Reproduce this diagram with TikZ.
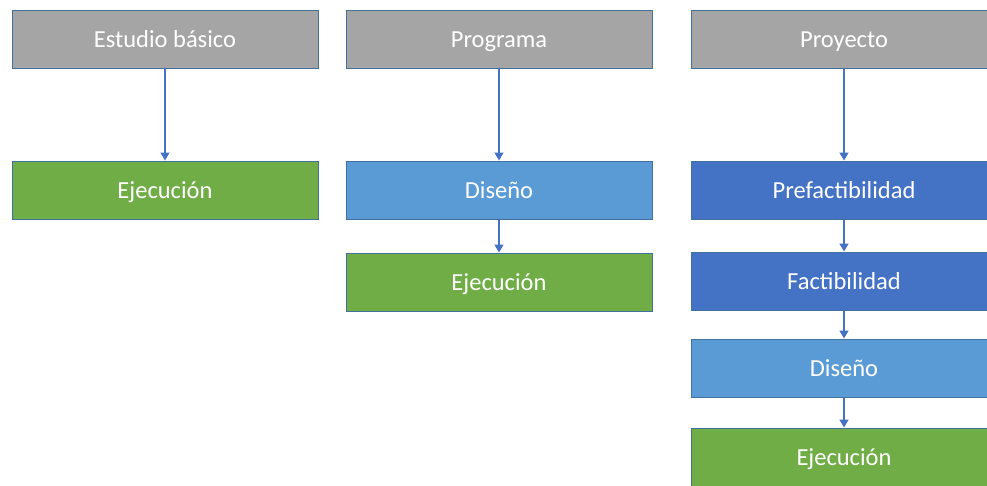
\documentclass[tikz,border=0pt]{standalone}
\usepackage{fontspec}
\setmainfont{Carlito}
\usetikzlibrary{arrows.meta, positioning}
\tikzset{>={Triangle[width=9pt,length=8pt]}}
\definecolor{gris}{HTML}{A5A5A5}
\definecolor{verde}{HTML}{70AD47}
\definecolor{celeste}{HTML}{5B9BD5}
\definecolor{azul}{HTML}{4472C4}
\definecolor{borde}{HTML}{41719C}
\tikzset{
  fase/.style = {draw=borde, line width=1pt, minimum width=306pt, minimum height=58pt,
                 inner sep=0pt, text height=17pt, text depth=0pt, text=white,
                 font=\fontsize{24.5}{28}\selectfont},
  flecha/.style = {->, color=azul, line width=1.5pt}
}

\begin{document}
\begin{tikzpicture}[x=1pt, y=1pt, on grid]
		\useasboundingbox (0,0) rectangle (987,-485);
		\clip (0,0) rectangle (987,-485);
		% estudio basico
		\node (estudio) [fase, fill=gris] at (165,-39) {Estudio básico};
		\node (ejec1) [fase, fill=verde, below = 151pt of estudio] {Ejecución};
		% programa
		\node (programa) [fase, fill=gris, right = 334pt of estudio] {Programa};
		\node (diseno2) [fase, fill=celeste, below = 151pt of programa] {Diseño};
		\node (ejec2) [fase, fill=verde, below = 92pt of diseno2] {Ejecución};
		% proyecto
		\node (proyecto) [fase, fill=gris, right = 345pt of programa] {Proyecto};
		\node (prefac) [fase, fill=azul, below = 151pt of proyecto] {Prefactibilidad};
		\node (fac) [fase, fill=azul, below = 91pt of prefac] {Factibilidad};
		\node (diseno3) [fase, fill=celeste, below = 87pt of fac] {Diseño};
		\node (ejec3) [fase, fill=verde, below = 89pt of diseno3] {Ejecución};
		\path[flecha]
		(estudio) edge (ejec1)
		(programa) edge (diseno2)
		(diseno2) edge (ejec2)
		(proyecto) edge (prefac)
		(prefac) edge (fac)
		(fac) edge (diseno3)
		(diseno3) edge (ejec3);
\end{tikzpicture}
\end{document}
